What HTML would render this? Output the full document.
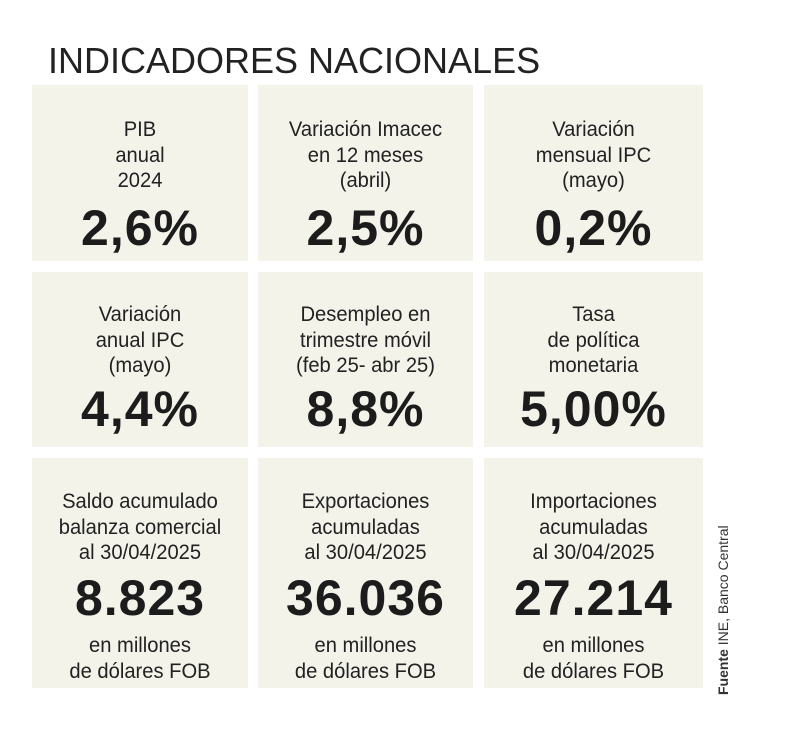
<!DOCTYPE html>
<html><head><meta charset="utf-8"><style>
body{margin:0;width:807px;height:734px;background:#fff;position:relative;overflow:hidden;font-family:"Liberation Sans",sans-serif;color:#222}
.t{position:absolute;left:48px;top:40px;font-size:36px;color:#222;transform:scaleX(1.0);transform-origin:left}
.b{position:absolute;background:#f3f3ea;text-align:center}
.l{position:absolute;left:0;right:0;font-size:21px;line-height:25.5px;white-space:nowrap;transform:scaleX(0.96)}
.n{position:absolute;left:0;right:0;font-size:50px;font-weight:bold;line-height:50px;color:#1c1c1c;letter-spacing:1px;white-space:nowrap}
.s{position:absolute;transform:rotate(-90deg);transform-origin:left top;font-size:14px;white-space:nowrap;color:#333;width:210px}
</style></head><body>
<div class="t">INDICADORES NACIONALES</div>

<div class="b" style="left:32px;top:85px;width:216px;height:176px"><div class="l" style="top:32px">PIB<br>anual<br>2024</div><div class="n" style="top:118px">2,6%</div></div>
<div class="b" style="left:258px;top:85px;width:215px;height:176px"><div class="l" style="top:32px">Variación Imacec<br>en 12 meses<br>(abril)</div><div class="n" style="top:118px">2,5%</div></div>
<div class="b" style="left:484px;top:85px;width:219px;height:176px"><div class="l" style="top:32px">Variación<br>mensual IPC<br>(mayo)</div><div class="n" style="top:118px">0,2%</div></div>

<div class="b" style="left:32px;top:272px;width:216px;height:175px"><div class="l" style="top:30px">Variación<br>anual IPC<br>(mayo)</div><div class="n" style="top:112px">4,4%</div></div>
<div class="b" style="left:258px;top:272px;width:215px;height:175px"><div class="l" style="top:30px">Desempleo en<br>trimestre móvil<br>(feb 25- abr 25)</div><div class="n" style="top:112px">8,8%</div></div>
<div class="b" style="left:484px;top:272px;width:219px;height:175px"><div class="l" style="top:30px">Tasa<br>de política<br>monetaria</div><div class="n" style="top:112px">5,00%</div></div>

<div class="b" style="left:32px;top:458px;width:216px;height:230px"><div class="l" style="top:31px">Saldo acumulado<br>balanza comercial<br>al 30/04/2025</div><div class="n" style="top:115px">8.823</div><div class="l" style="top:175px">en millones<br>de dólares FOB</div></div>
<div class="b" style="left:258px;top:458px;width:215px;height:230px"><div class="l" style="top:31px">Exportaciones<br>acumuladas<br>al 30/04/2025</div><div class="n" style="top:115px">36.036</div><div class="l" style="top:175px">en millones<br>de dólares FOB</div></div>
<div class="b" style="left:484px;top:458px;width:219px;height:230px"><div class="l" style="top:31px">Importaciones<br>acumuladas<br>al 30/04/2025</div><div class="n" style="top:115px">27.214</div><div class="l" style="top:175px">en millones<br>de dólares FOB</div></div>

<div class="s" style="left:715px;top:695px"><b>Fuente</b> INE, Banco Central</div>
</body></html>
